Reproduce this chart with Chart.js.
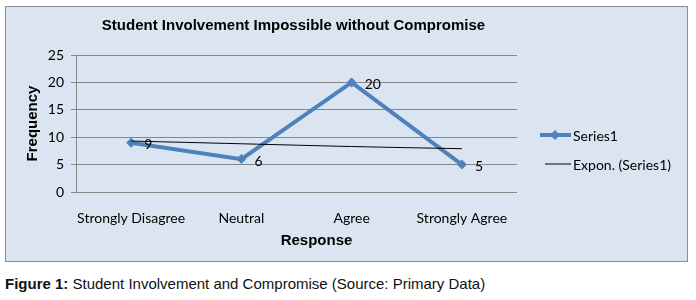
<!DOCTYPE html>
<html>
<head>
<meta charset="utf-8">
<script src="https://cdn.jsdelivr.net/npm/chart.js@4.4.1/dist/chart.umd.min.js"></script>
<style>
  html, body { margin: 0; padding: 0; background: #fff; }
  #box {
    position: absolute; left: 5px; top: 6px;
    width: 681px; height: 254px;
    background: #dbe5f1; border: 1px solid #8c8c8c;
  }
  #caption {
    position: absolute; left: 5px; top: 275px;
    font: 15px "Liberation Sans", Arial, sans-serif; color: #111;
    white-space: nowrap;
  }
</style>
</head>
<body>
<div id="box"><canvas id="ch" width="681" height="254"></canvas></div>
<div id="caption"><b>Figure 1:</b> Student Involvement and Compromise (Source: Primary Data)</div>
<script>
// data
const categories = ['Strongly Disagree', 'Neutral', 'Agree', 'Strongly Agree'];
const series1 = [9, 6, 20, 5];
const exponTrend = [9.3, 8.8, 8.3, 7.9];   // Excel exponential trendline, as drawn
const yTicks = [0, 5, 10, 15, 20, 25];

const BLUE = '#4f81bd';
const GRID = '#868686';
const LABEL_FONT = 'Lato, "Open Sans", sans-serif';
const BOLD_FONT = '"Liberation Sans", Arial, sans-serif';

// titles, data labels and legend drawn Excel-style
const excelBits = {
  id: 'excelBits',
  afterDraw(chart) {
    const { ctx, chartArea: a } = chart;
    const mid = (a.left + a.right) / 2;
    ctx.save();
    ctx.fillStyle = '#000';
    ctx.textBaseline = 'middle';

    ctx.font = 'bold 15px ' + BOLD_FONT;
    ctx.textAlign = 'center';
    ctx.fillText('Student Involvement Impossible without Compromise', mid - 3, 19);
    ctx.fillText('Response', mid + 20, 234);
    ctx.save();
    ctx.translate(27, (a.top + a.bottom) / 2);
    ctx.rotate(-Math.PI / 2);
    ctx.fillText('Frequency', 0, 0);
    ctx.restore();

    // value labels to the right of each point
    ctx.font = '14px ' + LABEL_FONT;
    ctx.textAlign = 'left';
    chart.getDatasetMeta(0).data.forEach((pt, i) => {
      ctx.fillText(String(series1[i]), pt.x + 13, pt.y + 2);
    });

    // legend
    const lx = 534, rows = [128, 157];
    chart.data.datasets.forEach((ds, i) => {
      const y = rows[i];
      ctx.strokeStyle = ds.borderColor;
      ctx.lineWidth = ds.borderWidth;
      ctx.beginPath();
      ctx.moveTo(lx + (i ? 5 : 0), y);
      ctx.lineTo(lx + 31, y);
      ctx.stroke();
      if (ds.pointRadius) {
        ctx.fillStyle = ds.borderColor;
        ctx.beginPath();
        ctx.moveTo(lx + 15, y - 5); ctx.lineTo(lx + 20, y);
        ctx.lineTo(lx + 15, y + 5); ctx.lineTo(lx + 10, y);
        ctx.closePath(); ctx.fill();
      }
      ctx.fillStyle = '#000';
      ctx.font = '14px ' + LABEL_FONT;
      ctx.fillText(ds.label, lx + 33, y + 1);
    });
    ctx.restore();
  }
};

new Chart(document.getElementById('ch'), {
  type: 'line',
  data: {
    labels: categories,
    datasets: [
      {
        label: 'Series1', data: series1,
        borderColor: BLUE, backgroundColor: BLUE, borderWidth: 4,
        pointStyle: 'rectRot', pointRadius: 5, pointBorderWidth: 0,
        tension: 0, order: 2
      },
      {
        label: 'Expon. (Series1)', data: exponTrend,
        borderColor: '#000', borderWidth: 1, pointRadius: 0,
        tension: 0.4, order: 1
      }
    ]
  },
  options: {
    responsive: false,
    animation: false,
    layout: { padding: { top: 48, right: 170, left: 0, bottom: 0 } },
    plugins: { legend: { display: false }, title: { display: false }, tooltip: { enabled: false } },
    scales: {
      x: {
        offset: true,
        grid: { display: false },
        border: { display: false },
        ticks: { color: '#000', font: { family: LABEL_FONT, size: 14 }, padding: 10, maxRotation: 0, autoSkip: false },
        afterFit(s) { s.height = 69; }
      },
      y: {
        min: 0, max: 25,
        afterBuildTicks(s) { s.ticks = yTicks.map(v => ({ value: v })); },
        grid: { color: GRID, tickLength: 5, tickColor: GRID },
        border: { color: GRID },
        ticks: { color: '#000', font: { family: LABEL_FONT, size: 14 }, padding: 7 },
        afterFit(s) { s.width = 70; }
      }
    }
  },
  plugins: [excelBits]
});
</script>
</body>
</html>
